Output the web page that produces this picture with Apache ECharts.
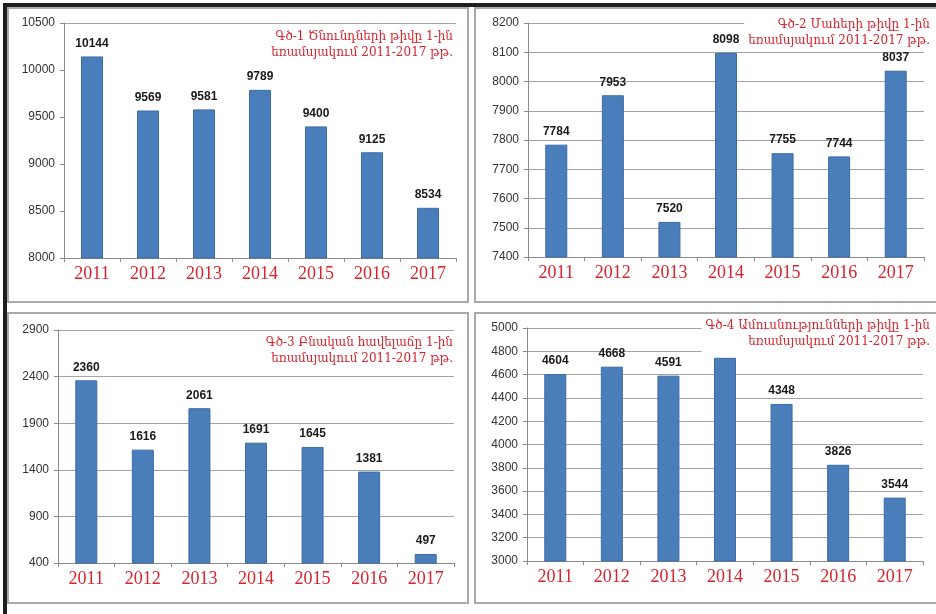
<!DOCTYPE html>
<html>
<head>
<meta charset="utf-8">
<script src="https://cdn.jsdelivr.net/npm/echarts@6/dist/echarts.min.js"></script>
<style>
html,body{margin:0;padding:0;background:#fff;}
#c{width:936px;height:614px;}
</style>
</head>
<body>
<div id="c"></div>
<script>
// ---- data ----
const years = ['2011','2012','2013','2014','2015','2016','2017'];
const births = [10144, 9569, 9581, 9789, 9400, 9125, 8534];
const deaths = [7784, 7953, 7520, 8098, 7755, 7744, 8037];
const naturalIncrease = [2360, 1616, 2061, 1691, 1645, 1381, 497];
const marriages = [4604, 4668, 4591, 4744, 4348, 3826, 3544];
const titles = [
  'Գծ-1 Ծնունդների թիվը 1-ին\nեռամսյակում 2011-2017 թթ.',
  'Գծ-2 Մահերի թիվը 1-ին\nեռամսյակում 2011-2017 թթ.',
  'Գծ-3 Բնական հավելաճը 1-ին\nեռամսյակում 2011-2017 թթ.',
  'Գծ-4 Ամուսնությունների թիվը 1-ին\nեռամսյակում 2011-2017 թթ.'
];
const yRanges = [
  {min: 8000, max: 10500, interval: 500},
  {min: 7400, max: 8200, interval: 100},
  {min: 400, max: 2900, interval: 500},
  {min: 3000, max: 5000, interval: 200}
];
const seriesData = [births, deaths, naturalIncrease, marriages];

// ---- layout ----
const grids = [
  {left: 64, top: 23, width: 392, height: 235},
  {left: 528, top: 23, width: 396, height: 234},
  {left: 58, top: 330, width: 396, height: 233},
  {left: 527, top: 328, width: 396, height: 233}
];
const titlePos = [
  {x: 455, y: 27},
  {x: 932, y: 15},
  {x: 455, y: 333},
  {x: 932, y: 316}
];
const RED = '#d9232d';
const GRID_GRAY = '#a3a3a3';
const AXIS_GRAY = '#8a8a8a';

const chart = echarts.init(document.getElementById('c'), null, {renderer: 'canvas'});

const titleGraphics = titles.map((t, i) => ({
  type: 'text',
  x: titlePos[i].x,
  y: titlePos[i].y,
  z: 10,
  style: {
    text: t,
    align: 'right',
    verticalAlign: 'top',
    fill: RED,
    font: '12px "DejaVu Serif"',
    lineHeight: 16,
    backgroundColor: '#fff',
    padding: [2, 2, 3, 4]
  }
}));

const option = {
  backgroundColor: '#fff',
  animation: false,
  grid: grids.map(g => Object.assign({containLabel: false}, g)),
  xAxis: grids.map((g, i) => ({
    type: 'category',
    gridIndex: i,
    data: years,
    boundaryGap: true,
    axisLine: {show: true, lineStyle: {color: AXIS_GRAY, width: 1}},
    axisTick: {show: true, inside: false, length: 4, alignWithLabel: false, lineStyle: {color: AXIS_GRAY}},
    axisLabel: {color: RED, fontFamily: 'Liberation Serif', fontSize: 18, margin: 7},
    splitLine: {show: false}
  })),
  yAxis: grids.map((g, i) => {
    const r = yRanges[i];
    const n = Math.round((r.max - r.min) / r.interval) + 1;
    let splitColor = GRID_GRAY;
    if (i === 0) {
      splitColor = [];
      for (let k = 0; k < n; k++) splitColor.push(k === n - 1 ? GRID_GRAY : 'rgba(0,0,0,0)');
    }
    return {
      type: 'value',
      gridIndex: i,
      min: r.min,
      max: r.max,
      interval: r.interval,
      axisLine: {show: true, lineStyle: {color: AXIS_GRAY, width: 1}},
      axisTick: {show: true, length: 4, lineStyle: {color: AXIS_GRAY}},
      axisLabel: {color: '#333', fontFamily: 'Liberation Sans', fontSize: 12, margin: 9, formatter: v => String(v)},
      splitLine: {show: true, lineStyle: {color: splitColor, width: 1}}
    };
  }),
  series: seriesData.map((d, i) => ({
    type: 'bar',
    xAxisIndex: i,
    yAxisIndex: i,
    data: d,
    barWidth: 22,
    itemStyle: {color: '#4a7ebb', borderColor: '#3d6ca5', borderWidth: 1},
    label: {
      show: true,
      position: 'top',
      distance: 7,
      color: '#1a1a1a',
      fontFamily: 'Liberation Sans',
      fontWeight: 'bold',
      fontSize: 12
    }
  })),
  graphic: [
    // panel frames
    {type: 'rect', shape: {x: 8, y: 8, width: 460, height: 294}, style: {fill: 'none', stroke: '#a9a9a9', lineWidth: 2}, z: -1},
    {type: 'rect', shape: {x: 475, y: 8, width: 470, height: 294}, style: {fill: 'none', stroke: '#a9a9a9', lineWidth: 2}, z: -1},
    {type: 'rect', shape: {x: 8, y: 313, width: 460, height: 290}, style: {fill: 'none', stroke: '#a9a9a9', lineWidth: 2}, z: -1},
    {type: 'rect', shape: {x: 475, y: 313, width: 470, height: 290}, style: {fill: 'none', stroke: '#a9a9a9', lineWidth: 2}, z: -1},
    // outer dark border (left and top)
    {type: 'rect', shape: {x: 3, y: 3, width: 4, height: 611}, style: {fill: '#1e1e1e'}, z: 20},
    {type: 'rect', shape: {x: 3, y: 3, width: 933, height: 4}, style: {fill: '#1e1e1e'}, z: 20}
  ].concat(titleGraphics)
};
chart.setOption(option);
</script>
</body>
</html>
